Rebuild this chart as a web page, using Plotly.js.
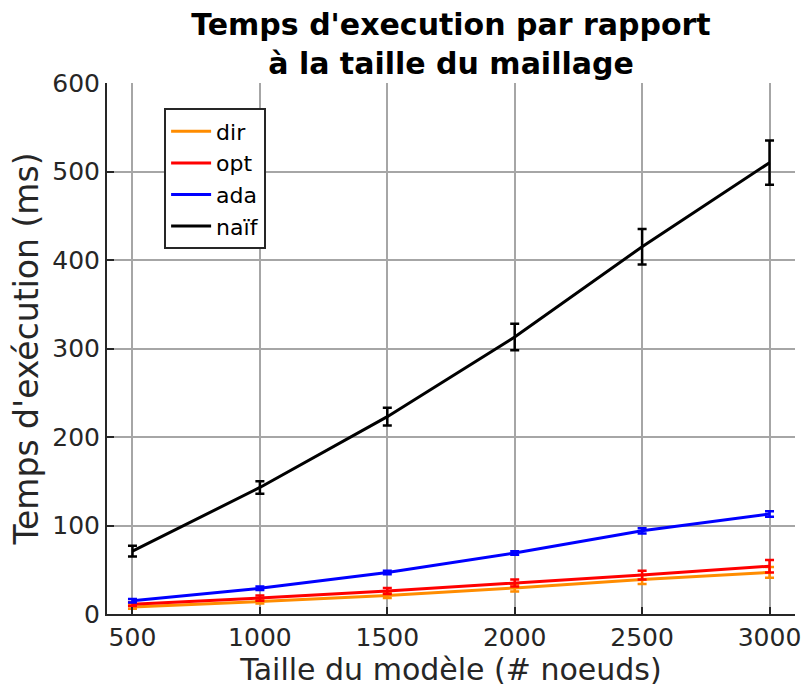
<!DOCTYPE html>
<html>
<head>
<meta charset="utf-8">
<script src="https://cdn.plot.ly/plotly-3.0.1.min.js"></script>
<style>body{margin:0;background:#fff}#chart{width:805px;height:691px}</style>
</head>
<body>
<div id="chart"></div>
<script>
const sizes = [500, 1000, 1500, 2000, 2500, 3000];
const dirVals = [8, 14, 21, 29.5, 39, 47];
const dirErr = [2, 2, 3, 4, 5, 6];
const optVals = [11, 18, 26, 35, 44, 54];
const optErr = [2, 3, 3.5, 4, 5, 7];
const adaVals = [15, 29, 47, 69, 94, 113];
const adaErr = [2, 2, 2, 2, 3, 3];
const naifVals = [71, 143, 223, 313, 415, 510];
const naifErr = [6, 7, 10, 15, 20, 25];
const xTicks = [500, 1000, 1500, 2000, 2500, 3000];
const yTicks = [0, 100, 200, 300, 400, 500, 600];

function tr(name, y, err, color) {
  return {
    x: sizes, y: y, name: name, type: 'scatter', mode: 'lines',
    line: {color: color, width: 3},
    error_y: {type: 'data', array: err, visible: true, color: color, thickness: 2.5, width: 4.5}
  };
}
const data = [
  tr('dir', dirVals, dirErr, '#ff8c00'),
  tr('opt', optVals, optErr, '#ff0000'),
  tr('ada', adaVals, adaErr, '#0000ff'),
  tr('naïf', naifVals, naifErr, '#000000')
];
const FF = 'DejaVu Sans, sans-serif';
const layout = {
  width: 805, height: 691,
  margin: {l: 107, r: 10, t: 83, b: 77},
  paper_bgcolor: '#fff', plot_bgcolor: '#fff',
  font: {family: FF, color: '#262626'},
  title: {text: "<b>Temps d'execution par rapport<br>à la taille du maillage</b>",
    font: {family: FF, size: 30, color: '#000'},
    xref: 'paper', x: 0.5, xanchor: 'center', y: 0.95, yanchor: 'middle'},
  xaxis: {
    range: [400, 3100], tickvals: xTicks, ticktext: xTicks.map(String),
    showgrid: true, gridcolor: '#a6a6a6', gridwidth: 2,
    showline: true, linecolor: '#262626', linewidth: 2,
    ticks: 'inside', ticklen: 7, tickwidth: 2, tickcolor: '#262626',
    tickfont: {size: 25, family: FF, color: '#262626'},
    zeroline: false,
    title: {text: 'Taille du modèle (# noeuds)', font: {size: 30, family: FF, color: '#262626'}, standoff: 2}
  },
  yaxis: {
    range: [0, 600], tickvals: yTicks, ticktext: yTicks.map(String),
    showgrid: true, gridcolor: '#a6a6a6', gridwidth: 2,
    showline: true, linecolor: '#262626', linewidth: 2,
    ticks: 'inside', ticklen: 7, tickwidth: 2, tickcolor: '#262626',
    tickfont: {size: 25, family: FF, color: '#262626'},
    zeroline: false,
    title: {text: "Temps d'exécution (ms)", font: {size: 33, family: FF, color: '#262626'}, standoff: 4}
  },
  showlegend: true,
  legend: {
    x: 0.083, y: 0.952, xanchor: 'left', yanchor: 'top',
    bgcolor: '#fff', bordercolor: '#262626', borderwidth: 2,
    font: {size: 22, family: FF, color: '#000'},
    tracegroupgap: 0, itemwidth: 40
  }
};
Plotly.newPlot('chart', data, layout, {displayModeBar: false});
</script>
</body>
</html>
